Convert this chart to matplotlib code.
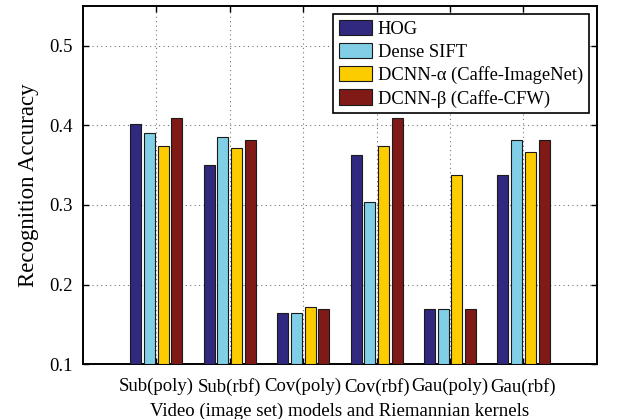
import matplotlib
matplotlib.use("Agg")
import matplotlib.pyplot as plt
import numpy as np

plt.rcParams['font.family'] = ['Liberation Serif', 'DejaVu Serif']

categories = ["Sub(poly)", "Sub(rbf)", "Cov(poly)", "Cov(rbf)", "Gau(poly)", "Gau(rbf)"]
series = ["HOG", "Dense SIFT", "DCNN-\u03b1 (Caffe-ImageNet)", "DCNN-\u03b2 (Caffe-CFW)"]
hog = [0.401, 0.350, 0.164, 0.363, 0.169, 0.337]
dsift = [0.390, 0.385, 0.164, 0.304, 0.169, 0.382]
dcnn_a = [0.374, 0.372, 0.172, 0.374, 0.337, 0.366]
dcnn_b = [0.409, 0.382, 0.169, 0.409, 0.169, 0.382]
colors = ["#31287f", "#80cfe6", "#fccc00", "#7f1a16"]

fig = plt.figure(figsize=(6.33, 4.19), dpi=100)
ax = fig.add_axes([0.131, 0.131, 0.812, 0.855])

x = np.arange(1, len(categories) + 1)
offsets = [-0.28, -0.093, 0.093, 0.28]
for vals, off, c, lab in zip([hog, dsift, dcnn_a, dcnn_b], offsets, colors, series):
    ax.bar(x + off, np.array(vals) - 0.1, bottom=0.1, width=0.15, color=c,
           edgecolor="#1a1a1a", linewidth=0.8, label=lab, zorder=3)

ax.set_xlim(0, 7)
ax.set_ylim(0.1, 0.55)
ax.set_xticks(x)
ax.set_xticklabels(categories, fontsize=13.5)
ax.set_yticks([0.1, 0.2, 0.3, 0.4, 0.5])
ax.set_yticklabels(["0.1", "0.2", "0.3", "0.4", "0.5"], fontsize=13.5)
ax.tick_params(direction="in", top=True, right=True, length=4, width=1.0)
ax.tick_params(axis="x", pad=10)
ax.tick_params(axis="y", pad=7)
ax.grid(True, linestyle=(0, (1, 3)), color="#777777", linewidth=0.8, zorder=0)
ax.set_xlabel("Video (image set) models and Riemannian kernels", fontsize=13.5, labelpad=5)
ax.set_ylabel("Recognition Accuracy", fontsize=16.5, labelpad=8)
for s in ax.spines.values():
    s.set_linewidth(1.4)

leg = ax.legend(loc="upper right", fontsize=13.3, fancybox=False, framealpha=1,
                edgecolor="black", handlelength=1.8, handleheight=0.9,
                handletextpad=0.3, borderpad=0.3, labelspacing=0.28,
                borderaxespad=0.45)
leg.get_frame().set_linewidth(1.2)

fig.savefig("out.png", dpi=100)
